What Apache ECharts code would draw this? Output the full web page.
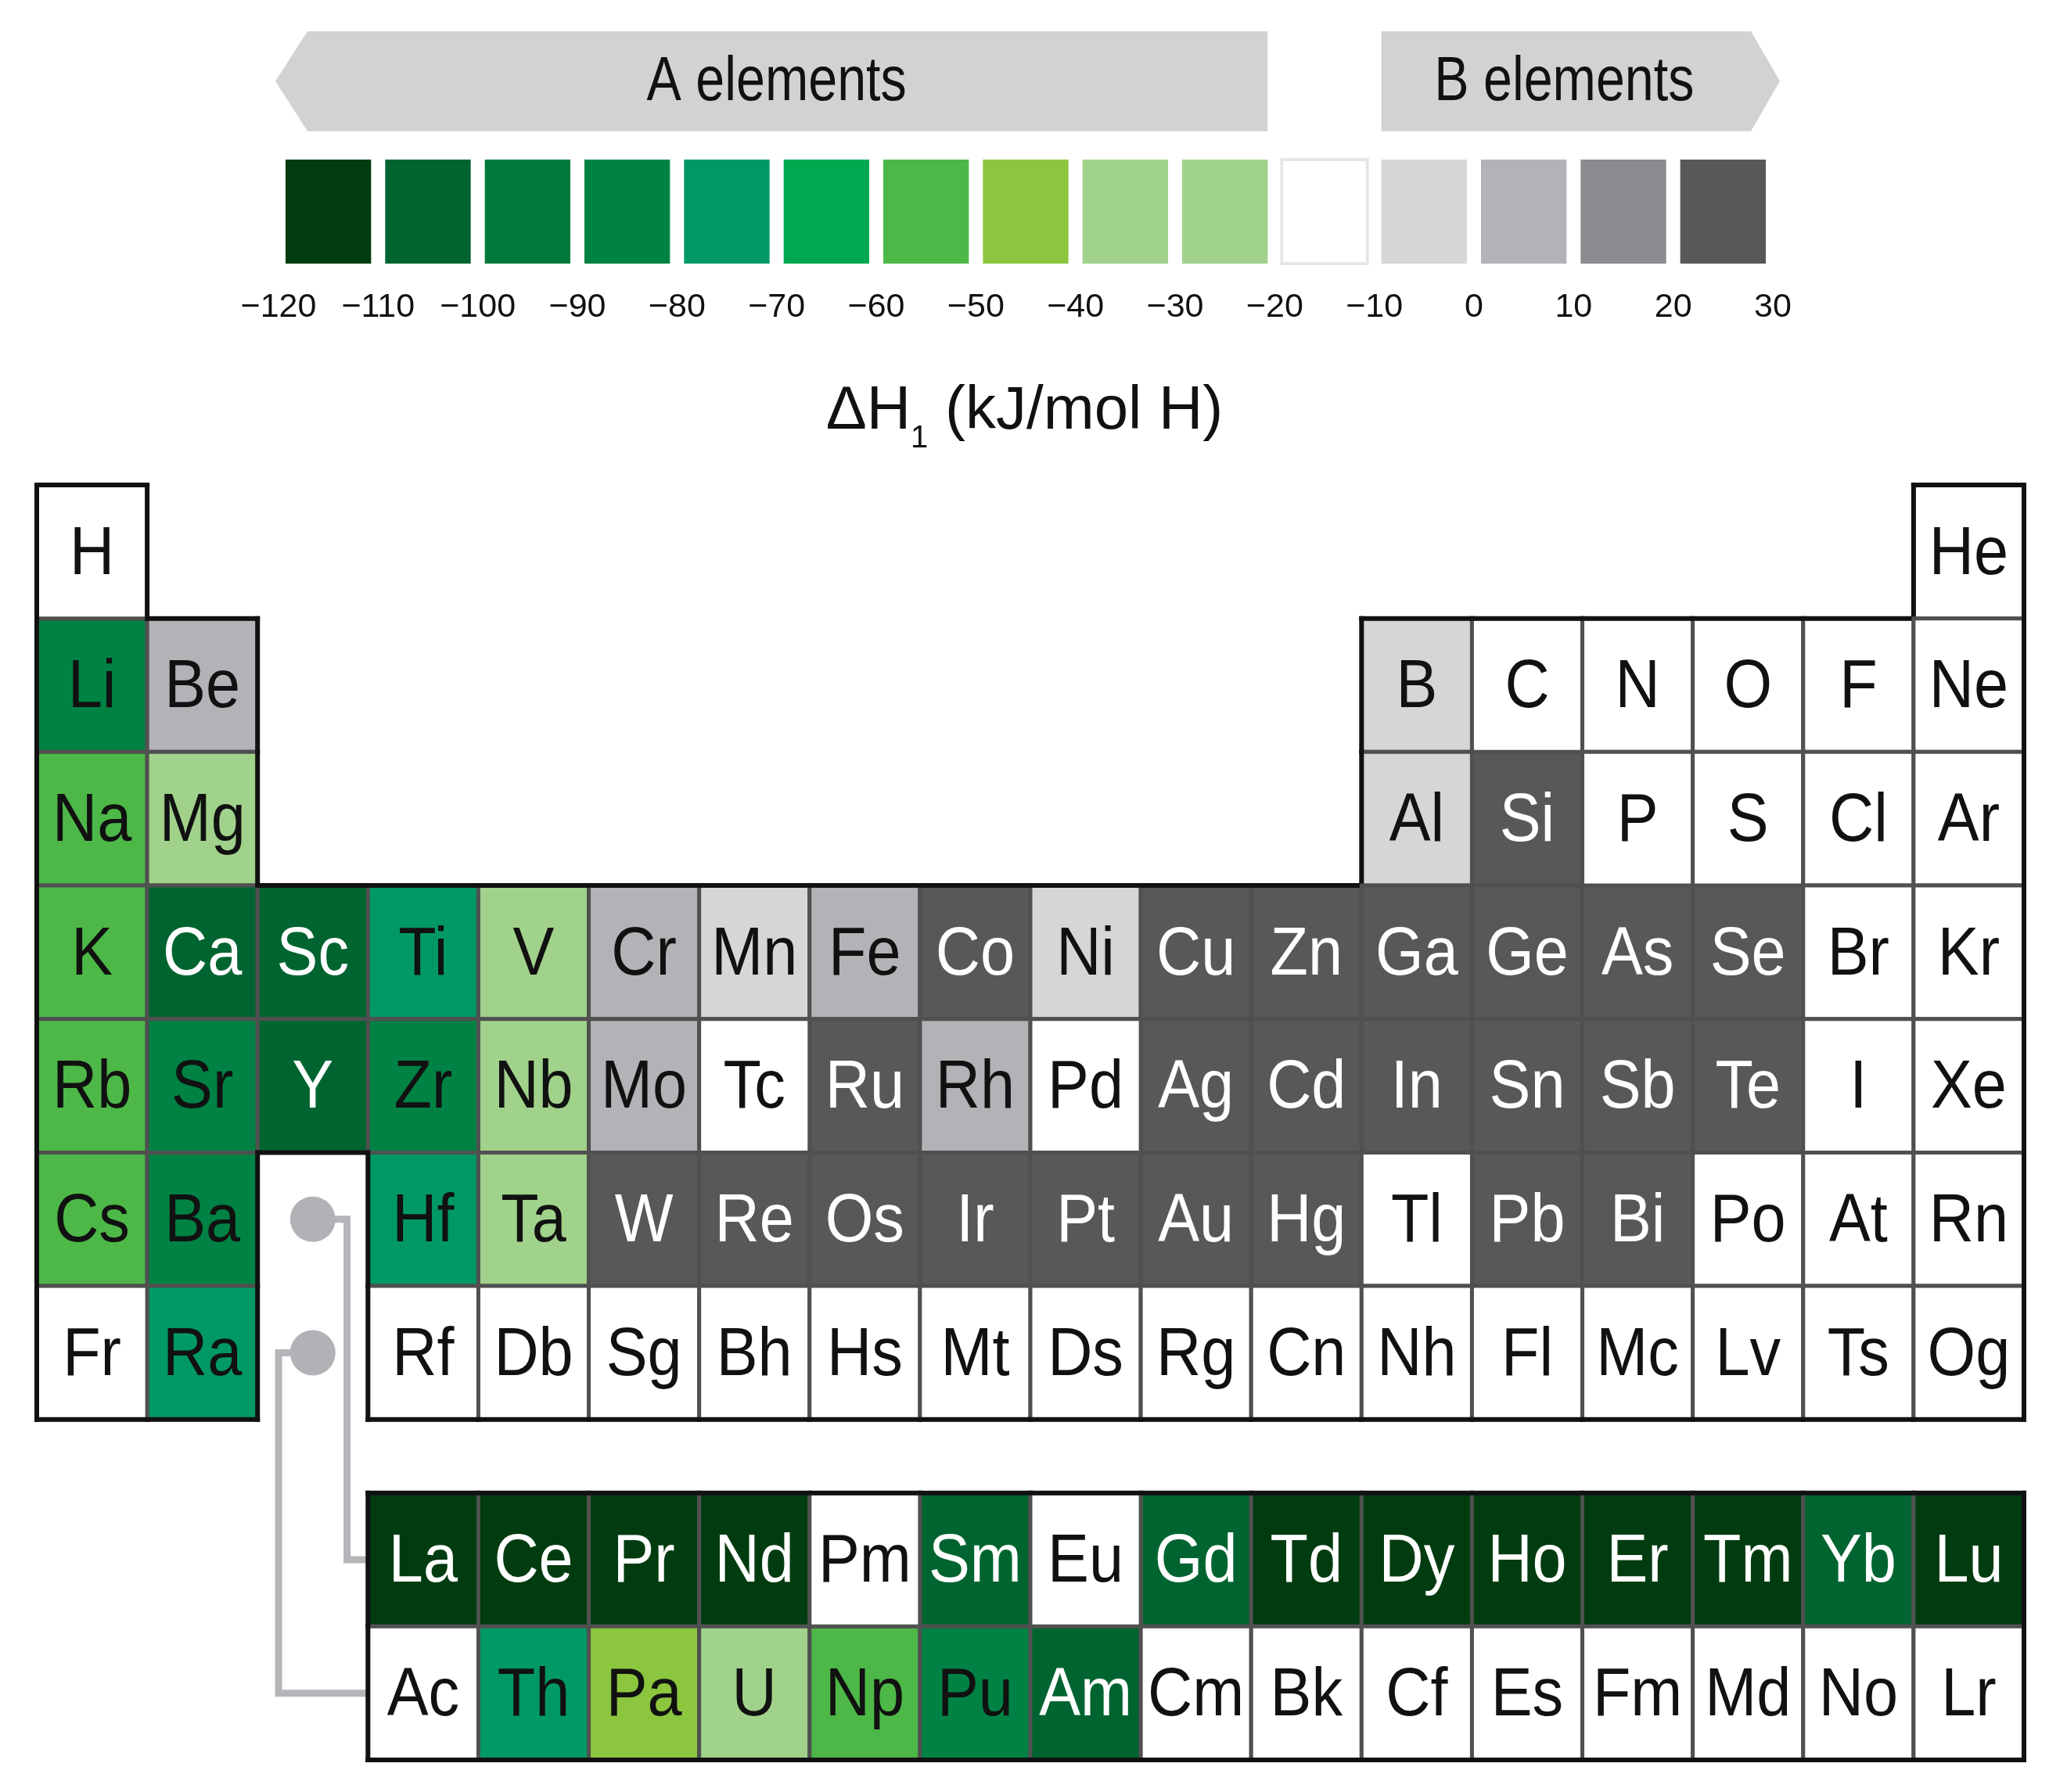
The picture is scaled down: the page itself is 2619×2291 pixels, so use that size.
<!DOCTYPE html>
<html>
<head>
<meta charset="utf-8">
<title>Hydride formation enthalpy</title>
<script src="https://cdn.jsdelivr.net/npm/echarts@6/dist/echarts.min.js"></script>
<style>
  html, body { margin: 0; padding: 0; background: #fff; }
  #chart { width: 2619px; height: 2291px; }
</style>
</head>
<body>
<div id="chart"></div>
<script>
// colour scale, kJ/mol H
const binEdges = [-120, -110, -100, -90, -80, -70, -60, -50, -40, -30, -20, -10, 0, 10, 20, 30];
const binColors = ['#003c10', '#006430', '#007a3c', '#008244', '#009966', '#00a94f', '#4db848', '#8cc63f',
  '#a1d28b', '#a1d28b', '#ffffff', '#d5d6d8', '#b2b3b6', '#8a8b8e', '#58585a'];

const bannerNames = ['A elements', 'B elements'];
const bannerFrom = [-120, -10];
const bannerTo = [-20, 30];
const bannerDirection = ['left', 'right'];

// '.' = empty slot, '*' = f-block placeholder; values follow the symbols (null = not shaded)
const period1 = 'H . . . . . . . . . . . . . . . . He';
const period1dH = [null, null];
const period2 = 'Li Be . . . . . . . . . . B C N O F Ne';
const period2dH = [-85, 5, -5, null, null, null, null, null];
const period3 = 'Na Mg . . . . . . . . . . Al Si P S Cl Ar';
const period3dH = [-55, -35, -5, 25, null, null, null, null];
const period4 = 'K Ca Sc Ti V Cr Mn Fe Co Ni Cu Zn Ga Ge As Se Br Kr';
const period4dH = [-55, -105, -105, -75, -35, 5, -5, 5, 25, -5, 25, 25, 25, 25, 25, 25, null, null];
const period5 = 'Rb Sr Y Zr Nb Mo Tc Ru Rh Pd Ag Cd In Sn Sb Te I Xe';
const period5dH = [-55, -88, -105, -85, -35, 5, null, 25, 5, null, 25, 25, 25, 25, 25, 25, null, null];
const period6 = 'Cs Ba * Hf Ta W Re Os Ir Pt Au Hg Tl Pb Bi Po At Rn';
const period6dH = [-55, -86, -75, -35, 25, 25, 25, 25, 25, 25, 25, null, 25, 25, null, null, null];
const period7 = 'Fr Ra * Rf Db Sg Bh Hs Mt Ds Rg Cn Nh Fl Mc Lv Ts Og';
const period7dH = [null, -75, null, null, null, null, null, null, null, null, null, null, null, null, null, null, null];
const lanthanides = '. . . La Ce Pr Nd Pm Sm Eu Gd Td Dy Ho Er Tm Yb Lu';
const lanthanidesdH = [-115, -115, -115, -115, null, -105, null, -105, -115, -115, -115, -115, -115, -105, -115];
const actinides = '. . . Ac Th Pa U Np Pu Am Cm Bk Cf Es Fm Md No Lr';
const actinidesdH = [null, -75, -45, -35, -55, -87, -105, null, null, null, null, null, null, null, null];

// layout (table units: one cell = 1)
const rowTops = [0, 1, 2, 3, 4, 5, 6, 7.55, 8.55];
const connectorDots = [[2.5, 5.5], [2.5, 6.5]];
const connectorBendX = [2.81, 2.19];
const connectorTargetY = [8.05, 9.05];

const rows = [period1, period2, period3, period4, period5, period6, period7, lanthanides, actinides];
const rowValues = [period1dH, period2dH, period3dH, period4dH, period5dH, period6dH, period7dH, lanthanidesdH, actinidesdH];

const filled = [];
const empty = [];
const occupied = {};
rows.forEach((row, r) => {
  let k = 0;
  row.split(' ').forEach((sym, c) => {
    if (sym === '.' || sym === '*') return;
    const dH = rowValues[r][k++];
    occupied[r + ':' + c] = true;
    (dH === null ? empty : filled).push({ sym, r, c, dH });
  });
});

function sameBlock(r1, r2) {
  return (r1 < 7) === (r2 < 7);
}
function has(r, c) {
  return !!occupied[r + ':' + c];
}

const fontFamily = '"Liberation Sans", Arial, sans-serif';
const cellFont = '88px ' + fontFamily;

function cellRenderer(list, fixedFill) {
  return function (params, api) {
    const cell = list[params.dataIndex];
    const p0 = api.coord([api.value(0), api.value(1)]);
    const p1 = api.coord([api.value(0) + 1, api.value(1) + 1]);
    const x = p0[0], y = p0[1], w = p1[0] - p0[0], h = p1[1] - p0[1];
    const fill = fixedFill || api.visual('color');
    const light = cell.dH !== null && (cell.dH <= -100 || cell.dH >= 20);
    const children = [{
      type: 'rect',
      shape: { x, y, width: w, height: h },
      style: { fill, stroke: '#505050', lineWidth: 5 }
    }];
    const edge = { stroke: '#111', lineWidth: 6 };
    const r = cell.r, c = cell.c;
    if (!(r > 0 && sameBlock(r - 1, r) && has(r - 1, c))) {
      children.push({ type: 'line', shape: { x1: x - 3, y1: y, x2: x + w + 3, y2: y }, style: edge });
    }
    if (!(sameBlock(r + 1, r) && has(r + 1, c))) {
      children.push({ type: 'line', shape: { x1: x - 3, y1: y + h, x2: x + w + 3, y2: y + h }, style: edge });
    }
    if (!has(r, c - 1)) {
      children.push({ type: 'line', shape: { x1: x, y1: y - 3, x2: x, y2: y + h + 3 }, style: edge });
    }
    if (!has(r, c + 1)) {
      children.push({ type: 'line', shape: { x1: x + w, y1: y - 3, x2: x + w, y2: y + h + 3 }, style: edge });
    }
    children.push({
      type: 'text',
      x: x + w / 2,
      y: y + h / 2 + 4,
      scaleX: 0.9,
      style: {
        text: cell.sym, x: 0, y: 0,
        align: 'center', verticalAlign: 'middle',
        fill: light ? '#ffffff' : '#111111', font: cellFont
      }
    });
    return { type: 'group', children };
  };
}

const chart = echarts.init(document.getElementById('chart'));
chart.setOption({
  animation: false,
  backgroundColor: '#ffffff',
  title: {
    text: 'ΔH{sub|1} (kJ/mol H)',
    left: 'center',
    top: 466,
    textStyle: {
      fontFamily: fontFamily,
      fontSize: 78,
      fontWeight: 'normal',
      color: '#111',
      lineHeight: 110,
      rich: {
        sub: {
          fontFamily: fontFamily,
          fontSize: 40, lineHeight: 40, color: '#111',
          padding: [70, 0, 0, 0]
        }
      }
    }
  },
  visualMap: {
    type: 'piecewise',
    show: false,
    dimension: 2,
    seriesIndex: [0, 4],
    pieces: binColors.map((color, i) => ({ gte: binEdges[i], lt: binEdges[i + 1], color }))
  },
  grid: [
    { left: 47, right: 32, top: 620, height: 1630 },
    { left: 356, right: 353, top: 40, height: 297 }
  ],
  xAxis: [
    { type: 'value', gridIndex: 0, min: 0, max: 18, show: false },
    {
      type: 'value', gridIndex: 1, min: -120, max: 30, interval: 10,
      axisLine: { show: false }, axisTick: { show: false }, splitLine: { show: false },
      axisLabel: {
        margin: 35,
        fontSize: 43,
        fontFamily: fontFamily,
        color: '#111',
        formatter: v => (v < 0 ? '\u2212' + Math.abs(v) : String(v))
      }
    }
  ],
  yAxis: [
    { type: 'value', gridIndex: 0, min: 0, max: 9.55, inverse: true, show: false },
    { type: 'value', gridIndex: 1, min: 0, max: 1, show: false }
  ],
  series: [
    {
      type: 'custom', name: 'shaded', xAxisIndex: 0, yAxisIndex: 0, clip: false, z: 3,
      data: filled.map(d => [d.c, rowTops[d.r], d.dH]),
      renderItem: cellRenderer(filled, null)
    },
    {
      type: 'custom', name: 'unshaded', xAxisIndex: 0, yAxisIndex: 0, clip: false, z: 3,
      data: empty.map(d => [d.c, rowTops[d.r], 0]),
      renderItem: cellRenderer(empty, '#ffffff')
    },
    {
      type: 'custom', name: 'connectors', xAxisIndex: 0, yAxisIndex: 0, clip: false, z: 2,
      data: connectorDots,
      renderItem(params, api) {
        const i = params.dataIndex;
        const dot = api.coord([api.value(0), api.value(1)]);
        const bend = api.coord([connectorBendX[i], api.value(1)]);
        const down = api.coord([connectorBendX[i], connectorTargetY[i]]);
        const end = api.coord([3, connectorTargetY[i]]);
        return {
          type: 'group',
          children: [
            {
              type: 'polyline',
              shape: { points: [dot, bend, down, end] },
              style: { stroke: '#b5b6b9', lineWidth: 9, fill: null }
            },
            {
              type: 'circle',
              shape: { cx: dot[0], cy: dot[1], r: 29 },
              style: { fill: '#b1b2b6' }
            }
          ]
        };
      }
    },
    {
      type: 'custom', name: 'banners', xAxisIndex: 1, yAxisIndex: 1, clip: false,
      data: bannerFrom.map((v, i) => [v, bannerTo[i]]),
      renderItem(params, api) {
        const i = params.dataIndex;
        const a = api.coord([api.value(0), 1]);
        const b = api.coord([api.value(1), 0.57]);
        const x0 = a[0] + 9, x1 = b[0] - 9, yT = a[1], yB = b[1], yM = (yT + yB) / 2;
        const pts = bannerDirection[i] === 'left'
          ? [[x0 - 13, yM], [x0 + 28, yT], [x1, yT], [x1, yB], [x0 + 28, yB]]
          : [[x0, yT], [x1 - 19, yT], [x1 + 18, yM], [x1 - 19, yB], [x0, yB]];
        return {
          type: 'group',
          children: [
            { type: 'polygon', shape: { points: pts }, style: { fill: '#d1d2d4' } },
            {
              type: 'text',
              x: (x0 + x1) / 2 - (i === 1 ? 12 : 0),
              y: yM + 2,
              scaleX: 0.83,
              style: {
                text: bannerNames[i], x: 0, y: 0,
                align: 'center', verticalAlign: 'middle',
                fill: '#111', font: '80px ' + fontFamily
              }
            }
          ]
        };
      }
    },
    {
      type: 'custom', name: 'scale', xAxisIndex: 1, yAxisIndex: 1, clip: false,
      data: binColors.map((c, i) => [binEdges[i], binEdges[i + 1], (binEdges[i] + binEdges[i + 1]) / 2]),
      renderItem(params, api) {
        const a = api.coord([api.value(0), 0.448]);
        const b = api.coord([api.value(1), 0]);
        const color = api.visual('color');
        const white = color === '#ffffff';
        return {
          type: 'rect',
          shape: { x: a[0] + 9, y: a[1], width: b[0] - a[0] - 18, height: b[1] - a[1] },
          style: { fill: color, stroke: white ? '#e6e6e6' : null, lineWidth: white ? 4 : 0 }
        };
      }
    }
  ]
});
</script>
</body>
</html>
